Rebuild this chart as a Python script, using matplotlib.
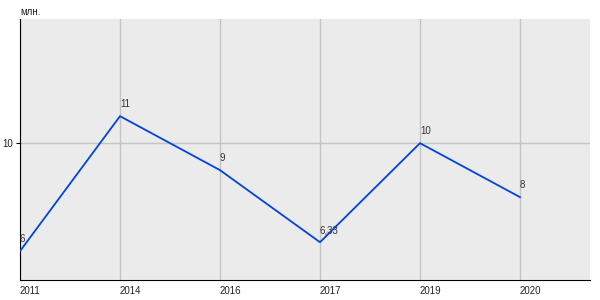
import matplotlib
matplotlib.use('Agg')
import matplotlib.pyplot as plt

plt.rcParams['font.family'] = ['Liberation Sans', 'DejaVu Sans']

# data
years = ['2011', '2014', '2016', '2017', '2019', '2020']
values = [6, 11, 9, 6.33, 10, 8]
value_labels = ['6', '11', '9', '6,33', '10', '8']

fig = plt.figure(figsize=(6, 3), dpi=100)
ax = fig.add_axes([20 / 600, 20 / 300, 570 / 600, 261 / 300])
ax.set_facecolor('#ebebeb')

x = list(range(len(years)))
ax.plot(x, values, color='#0044dd', lw=1.3, zorder=3)

for xi, v, lab in zip(x, values, value_labels):
    ax.annotate(lab, (xi, v), xytext=(0, 5), textcoords='offset points',
                fontsize=7, color='#333333', ha='left', va='bottom', zorder=4)

ax.set_xlim(0, 5.7)
ax.set_ylim(4.93, 14.6)
ax.set_xticks(x)
ax.set_xticklabels(years, ha='left')
ax.set_yticks([10])
ax.set_yticklabels(['10'])
ax.grid(True, color='#c4c4c4', lw=1)
ax.set_axisbelow(True)

for side in ['top', 'right']:
    ax.spines[side].set_visible(False)
ax.spines['left'].set_color('black')
ax.spines['bottom'].set_color('black')
ax.tick_params(axis='x', length=0, labelsize=7, pad=4, colors='#222222')
ax.tick_params(axis='y', length=3, labelsize=7, pad=2, labelcolor='#222222')

fig.text(20 / 600, 1 - 12 / 300, 'млн.', fontsize=7, ha='left', va='center',
         color='#222222')

fig.savefig('out.png', dpi=100)
